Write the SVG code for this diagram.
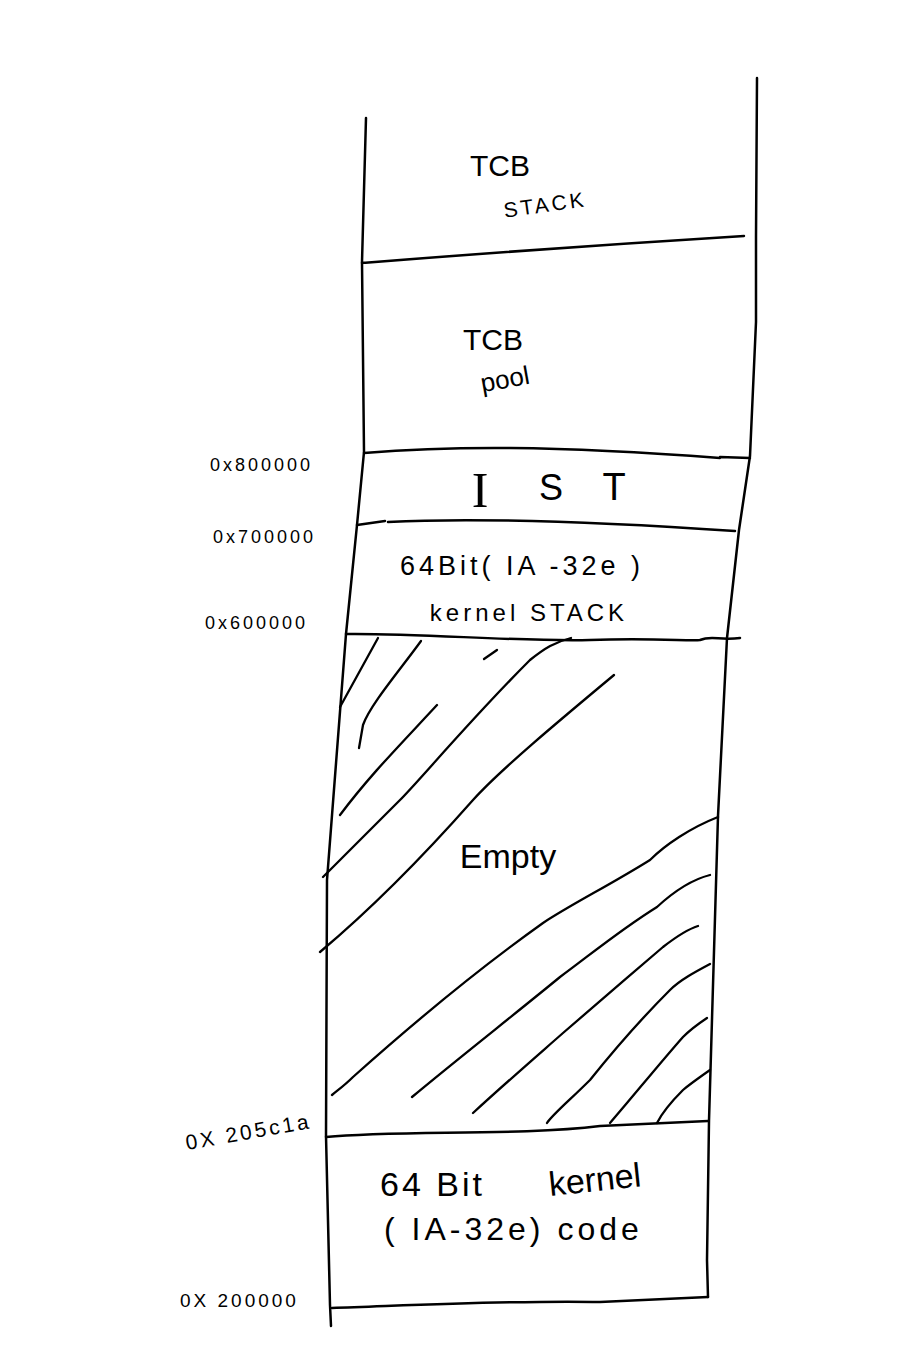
<svg xmlns="http://www.w3.org/2000/svg" width="906" height="1351" viewBox="0 0 906 1351">
<style>
.ln{fill:none;stroke:#000;stroke-width:2.5;stroke-linecap:round;stroke-linejoin:round}
.h{fill:none;stroke:#000;stroke-width:2.3;stroke-linecap:round;stroke-linejoin:round}
.t{font-family:"Liberation Sans",Arial,sans-serif;fill:#000}
.lab{font-family:"Liberation Sans",Arial,sans-serif;fill:#000;font-size:18px;letter-spacing:3px}
</style>
<rect width="906" height="1351" fill="#fff"/>
<g id="frame">
<path class="ln" d="M366,118 L362,262 L364,452 L357,525 L346,634 L327,880 L326,1136 L330,1305 L331,1326"/>
<path class="ln" d="M757,78 L756,236 L756,322 L750,456 L739,530 L727,638 L718,816 L709,1121 L707,1260 L708,1297"/>
<path class="ln" d="M362,263 C450,256 550,248 744,236"/>
<path class="ln" d="M364,453 C450,446 550,445 720,458 M720,457 L750,458"/>
<path class="ln" d="M357,525 L385,521 M388,522 C480,517 600,522 735,531"/>
<path class="ln" d="M346,634 C420,633 520,642 590,640 C650,638 690,641 700,640 C712,635 720,641 740,638"/>
<path class="ln" d="M326,1137 C400,1130 520,1136 600,1126 L708,1121"/>
<path class="ln" d="M332,1308 C420,1305 520,1300 600,1302 L708,1297"/>
</g>
<g id="hatching">
<path class="h" d="M378,638 L340,707"/>
<path class="h" d="M421,641 C400,670 370,705 363,725 L359,748"/>
<path class="h" d="M484,659 L497,650"/>
<path class="h" d="M437,705 C400,745 370,775 340,815"/>
<path class="h" d="M571,638 C555,642 545,648 530,660 C470,720 420,780 400,800 C380,820 350,850 323,877"/>
<path class="h" d="M614,675 C560,720 500,770 473,800 C420,860 370,910 320,952"/>
<path class="h" d="M718,817 C690,828 665,845 650,860 C610,885 570,905 543,923 C470,975 400,1035 353,1077 C345,1085 338,1090 332,1095"/>
<path class="h" d="M710,875 C690,880 670,895 657,907 C620,930 590,955 560,977 C520,1010 450,1065 412,1097"/>
<path class="h" d="M698,926 C685,930 672,940 663,947 C630,975 590,1010 563,1033 C530,1062 500,1088 473,1113"/>
<path class="h" d="M710,964 C695,972 680,980 670,990 C640,1020 610,1055 590,1080 C570,1100 552,1115 547,1123"/>
<path class="h" d="M707,1018 C698,1024 690,1030 683,1037 C660,1063 630,1100 610,1123"/>
<path class="h" d="M710,1070 C700,1077 690,1084 683,1090 C670,1103 662,1113 657,1123"/>
</g>
<g id="tcb-stack">
<text class="t" x="500" y="176" font-size="30" text-anchor="middle">TCB</text>
<text class="t" x="545" y="212" font-size="21" text-anchor="middle" letter-spacing="3" transform="rotate(-8 545 205)">STACK</text>
</g>
<g id="tcb-pool">
<text class="t" x="493" y="350" font-size="30" text-anchor="middle">TCB</text>
<text class="t" x="505" y="388" font-size="26" text-anchor="middle" transform="rotate(-10 505 380)">pool</text>
</g>
<g id="ist">
<text class="lab" x="210" y="471">0x800000</text>
<text x="480" y="507" font-family="Liberation Serif, serif" font-size="50" text-anchor="middle">I</text>
<text class="t" x="551" y="500" font-size="36" text-anchor="middle">S</text>
<text class="t" x="614" y="500" font-size="38" text-anchor="middle">T</text>
</g>
<g id="kernel-stack">
<text class="lab" x="213" y="543">0x700000</text>
<text class="lab" x="205" y="629">0x600000</text>
<text class="t" x="522" y="575" font-size="27" text-anchor="middle" letter-spacing="4">64Bit( IA -32e )</text>
<text class="t" x="529" y="621" font-size="24" text-anchor="middle" letter-spacing="4">kernel STACK</text>
</g>
<g id="empty">
<text class="t" x="508" y="868" font-size="34" text-anchor="middle">Empty</text>
</g>
<g id="kernel-code">
<text class="lab" x="187" y="1150" style="font-size:21px" transform="rotate(-10 187 1150)">0X 205c1a</text>
<text class="lab" x="180" y="1307" style="font-size:19px">0X 200000</text>
<text class="t" x="380" y="1196" font-size="34" letter-spacing="3">64 Bit</text>
<text class="t" x="550" y="1196" font-size="34" transform="rotate(-6 550 1196)">kernel</text>
<text class="t" x="384" y="1240" font-size="32" letter-spacing="4">( IA-32e) code</text>
</g>
</svg>
